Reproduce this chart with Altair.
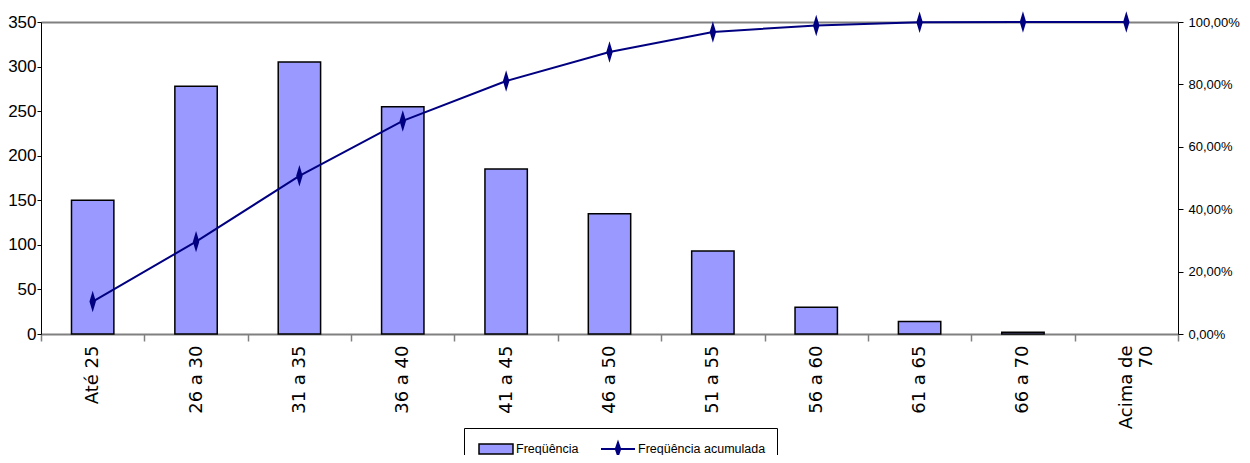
import altair as alt
import pandas as pd

categorias = ["Até 25", "26 a 30", "31 a 35", "36 a 40", "41 a 45", "46 a 50",
              "51 a 55", "56 a 60", "61 a 65", "66 a 70", "Acima de 70"]
frequencia = [150, 278, 305, 255, 185, 135, 93, 30, 14, 2, 0]
acumulada = [0.104, 0.296, 0.507, 0.683, 0.811, 0.904, 0.968, 0.989, 0.999, 1.0, 1.0]
serie_barra = "Freqüência"
serie_linha = "Freqüência acumulada"

df = pd.DataFrame({"faixa": categorias, "freq": frequencia, "acum": acumulada})

FONT = "Liberation Sans, Arial"
LEG_FS = 12.5

x_scale = alt.Scale(domain=categorias, paddingInner=0, paddingOuter=0)

legend_bar = alt.Legend(
    title=serie_linha, titleOrient="right", titleOpacity=0, titleFont=FONT,
    titleFontSize=LEG_FS, titlePadding=59.5,
    orient="none", legendX=423, legendY=406, direction="horizontal",
    strokeColor="black", padding=3, symbolOffset=11,
    labelFont=FONT, labelFontSize=LEG_FS, labelColor="black",
    symbolSize=1156, labelOffset=2,
    symbolType="M-1,-0.3H1V0.3H-1Z", symbolStrokeColor="black",
    symbolStrokeWidth=1.5, symbolOpacity=1,
)
legend_line = alt.Legend(
    title=None, orient="none", legendX=556, legendY=406, direction="horizontal",
    padding=3, labelFont=FONT, labelFontSize=LEG_FS, labelColor="black",
    labelLimit=300, symbolSize=1156, labelOffset=2,
    symbolType="M-1,0H1M0,-0.38L0.13,0L0,0.38L-0.13,0Z",
    symbolFillColor="#000080", symbolStrokeWidth=2, symbolOpacity=1,
)

bars = alt.Chart(df).transform_calculate(serie="'" + serie_barra + "'").mark_bar(
    stroke="black", strokeWidth=1.5, width=alt.RelativeBandSize(0.41)
).encode(
    x=alt.X("faixa:N", sort=categorias, scale=x_scale, axis=alt.Axis(
        orient="bottom", title=None, labelAngle=-90, labelFont="DejaVu Sans",
        labelFontSize=18, labelColor="black", labelPadding=4,
        domainColor="#808080", domainWidth=2, tickColor="#808080",
        tickSize=7, tickWidth=1.5, tickBand="extent",
        labelExpr="datum.value == 'Acima de 70' ? ['Acima de', '70'] : datum.label")),
    y=alt.Y("freq:Q", scale=alt.Scale(domain=[0, 350], nice=False), axis=alt.Axis(
        orient="left", title=None, values=list(range(0, 351, 50)),
        labelFont=FONT, labelFontSize=17, labelColor="black", labelPadding=1,
        domainColor="black", domainWidth=1, tickColor="black", tickSize=4)),
    color=alt.Color("serie:N", scale=alt.Scale(domain=[serie_barra], range=["#9999FF"]),
                    legend=legend_bar),
    strokeOpacity=alt.condition("datum.freq > 0", alt.value(1), alt.value(0)),
)

linha = alt.Chart(df).transform_calculate(serie="'" + serie_linha + "'").mark_line(
    strokeWidth=2,
    point=alt.OverlayMarkDef(shape="M0,-1L0.3,0L0,1L-0.3,0Z", size=210, filled=True,
                             fill="#000080", opacity=1),
).encode(
    x=alt.X("faixa:N", sort=categorias, scale=x_scale, axis=alt.Axis(
        orient="top", labels=False, ticks=False, title=None,
        domainColor="#808080", domainWidth=2)),
    y=alt.Y("acum:Q", scale=alt.Scale(domain=[0, 1], nice=False), axis=alt.Axis(
        orient="right", title=None, values=[0, 0.2, 0.4, 0.6, 0.8, 1.0],
        labelExpr="replace(format(datum.value, '.2%'), '.', ',')",
        labelFont=FONT, labelFontSize=13, labelColor="black", labelPadding=5,
        domainColor="black", domainWidth=1, tickColor="black", tickSize=5)),
    stroke=alt.Stroke("serie:N", scale=alt.Scale(domain=[serie_linha], range=["#000080"]),
                      legend=legend_line),
)

chart = alt.layer(bars, linha).resolve_scale(y="independent").resolve_axis(
    x="independent"
).properties(
    width=1137, height=312,
    autosize=alt.AutoSizeParams(type="none"),
    padding={"left": 33, "top": 14, "right": 64, "bottom": 121},
).configure_view(stroke=None).configure_axis(grid=False)

chart.save("out.html", embed_options={"renderer": "svg", "actions": False})
